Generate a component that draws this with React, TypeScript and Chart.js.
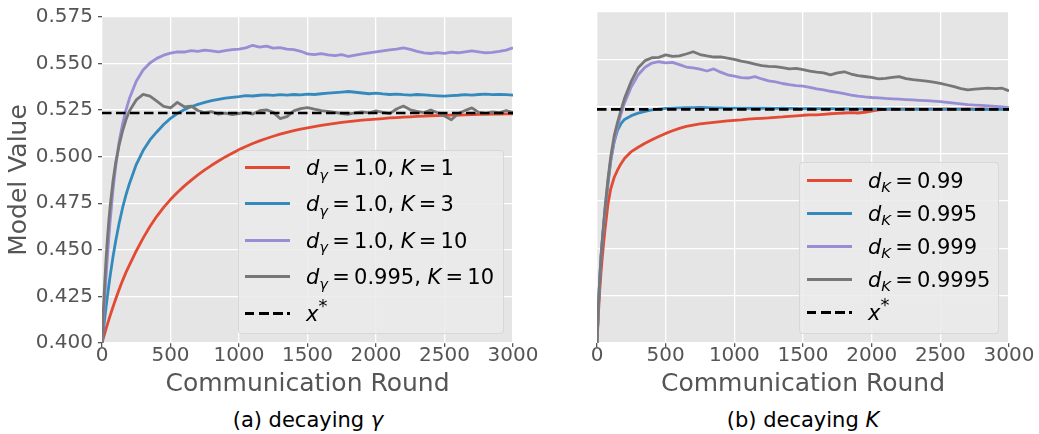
import React, { useEffect, useRef } from 'react';
import { Chart, registerables } from 'chart.js';

Chart.register(...registerables);

// Communication rounds at which values are read
const ROUNDS = [
  0, 10, 20, 30, 40, 50, 60, 80, 100, 125, 150, 175,
  200, 250, 300, 350, 400, 450, 500, 550, 600, 650, 700, 750, 800, 850, 900, 950, 1000,
  1050, 1100, 1150, 1200, 1250, 1300, 1350, 1400, 1450, 1500, 1550, 1600, 1650, 1700, 1750, 1800, 1850, 1900, 1950, 2000,
  2050, 2100, 2150, 2200, 2250, 2300, 2350, 2400, 2450, 2500, 2550, 2600, 2650, 2700, 2750, 2800, 2850, 2900, 2950, 3000,
];

// (a) decaying gamma
const LEFT_G10_K1 = [
  0.4, 0.4026, 0.4052, 0.4077, 0.4101, 0.4125, 0.4148, 0.4193, 0.4236, 0.4287, 0.4335, 0.4379,
  0.4418, 0.4494, 0.4563, 0.4625, 0.468, 0.4728, 0.477, 0.4808, 0.4842, 0.4873, 0.4902, 0.4929, 0.4954, 0.4977, 0.4999, 0.5019, 0.5038,
  0.5055, 0.5071, 0.5085, 0.5098, 0.511, 0.5121, 0.5131, 0.514, 0.5148, 0.5155, 0.5162, 0.5168, 0.5174, 0.5179, 0.5184, 0.5188, 0.5192, 0.5196, 0.5199, 0.5202,
  0.5205, 0.5208, 0.521, 0.5212, 0.5214, 0.5216, 0.5218, 0.522, 0.5221, 0.5222, 0.5223, 0.5224, 0.5225, 0.5226, 0.5227, 0.5228, 0.5229, 0.5229, 0.523, 0.523,
];
const LEFT_G10_K3 = [
  0.4, 0.4068, 0.4133, 0.4195, 0.4254, 0.431, 0.4363, 0.4461, 0.4548, 0.4643, 0.4725, 0.4795,
  0.4855, 0.4958, 0.5033, 0.509, 0.5133, 0.5173, 0.5206, 0.5232, 0.5252, 0.5268, 0.5281, 0.5292, 0.5301, 0.5308, 0.5314, 0.5319, 0.5323,
  0.5328, 0.5326, 0.533, 0.5332, 0.5329, 0.5333, 0.5331, 0.5334, 0.5332, 0.5336, 0.5334, 0.5338, 0.5341, 0.5344, 0.5347, 0.535, 0.5346, 0.5342, 0.5338, 0.5341,
  0.5337, 0.5334, 0.5336, 0.5333, 0.5331, 0.5334, 0.5332, 0.5329, 0.5327, 0.5325, 0.5328, 0.533, 0.5333, 0.5331, 0.5334, 0.5336, 0.5333, 0.5335, 0.5333, 0.5331,
];
const LEFT_G10_K10 = [
  0.4, 0.412, 0.424, 0.436, 0.447, 0.457, 0.466, 0.482, 0.495, 0.508, 0.5175, 0.525,
  0.5312, 0.5405, 0.5465, 0.5503, 0.5528, 0.5545, 0.5556, 0.5563, 0.5562, 0.557, 0.5566, 0.5572, 0.5568, 0.5563, 0.557, 0.5575, 0.5578,
  0.5584, 0.5598, 0.5588, 0.5594, 0.5583, 0.5586, 0.5578, 0.5575, 0.5566, 0.5552, 0.5548, 0.5553, 0.5547, 0.5543, 0.5548, 0.5538, 0.5545, 0.5552, 0.5558, 0.5563,
  0.5568, 0.5573, 0.5577, 0.5584, 0.5576, 0.5566, 0.5558, 0.5554, 0.5559, 0.5555, 0.5561, 0.5558, 0.5563, 0.5568, 0.5563, 0.5558, 0.556, 0.5565, 0.5572, 0.5585,
];
const LEFT_G995_K10 = [
  0.4, 0.4175, 0.4325, 0.4455, 0.4565, 0.4658, 0.4738, 0.4868, 0.4968, 0.5062, 0.5138, 0.5198,
  0.5245, 0.5305, 0.5335, 0.5325, 0.5298, 0.527, 0.5262, 0.5292, 0.5268, 0.5272, 0.5248, 0.5236, 0.5242, 0.5228, 0.5234, 0.5226, 0.5232,
  0.5238, 0.5229, 0.5247, 0.5252, 0.5238, 0.5205, 0.5215, 0.5246, 0.5258, 0.5264, 0.5255, 0.5247, 0.5243, 0.5238, 0.5232, 0.5228, 0.5236, 0.5241, 0.5235, 0.5246,
  0.5238, 0.5231, 0.5256, 0.5272, 0.5252, 0.5244, 0.5237, 0.5251, 0.5236, 0.5218, 0.5198, 0.5232, 0.5248, 0.5262, 0.5238, 0.5232, 0.5241, 0.5236, 0.5248, 0.5238,
];

// (b) decaying K
const RIGHT_K99 = [
  0.4, 0.415, 0.428, 0.438, 0.4465, 0.454, 0.461, 0.4735, 0.4815, 0.4875, 0.4915, 0.4948,
  0.4975, 0.5012, 0.5035, 0.5056, 0.5075, 0.5092, 0.5108, 0.5122, 0.5135, 0.5145, 0.5152, 0.5158, 0.5162, 0.5166, 0.517, 0.5174, 0.5177,
  0.518, 0.5184, 0.5186, 0.5188, 0.519, 0.5193, 0.5195, 0.5198, 0.5201, 0.5204, 0.5206, 0.5206, 0.5209, 0.5212, 0.5214, 0.5216, 0.5218, 0.5216, 0.522, 0.5226,
  0.5232, 0.5235, 0.5236, 0.5236, 0.5237, 0.5236, 0.5237, 0.5237, 0.5236, 0.5237, 0.5238, 0.5237, 0.5237, 0.5238, 0.5237, 0.5238, 0.5237, 0.5238, 0.5238, 0.5237,
];
const RIGHT_K995 = [
  0.4, 0.419, 0.434, 0.446, 0.455, 0.463, 0.471, 0.484, 0.4965, 0.5065, 0.5125, 0.516,
  0.5182, 0.5202, 0.5215, 0.5225, 0.5232, 0.5237, 0.524, 0.5242, 0.5243, 0.5244, 0.5244, 0.5245, 0.5244, 0.5243, 0.5243, 0.5242, 0.5242,
  0.5242, 0.5241, 0.5242, 0.5241, 0.5241, 0.524, 0.5241, 0.524, 0.524, 0.5239, 0.524, 0.5239, 0.5239, 0.5239, 0.5238, 0.5239, 0.5238, 0.5238, 0.5238, 0.5238,
  0.5238, 0.5237, 0.5238, 0.5237, 0.5237, 0.5237, 0.5237, 0.5236, 0.5237, 0.5236, 0.5236, 0.5236, 0.5236, 0.5236, 0.5235, 0.5236, 0.5235, 0.5235, 0.5235, 0.5235,
];
const RIGHT_K999 = [
  0.4, 0.419, 0.434, 0.446, 0.4555, 0.4635, 0.4715, 0.4855, 0.4965, 0.5065, 0.5145, 0.5212,
  0.5268, 0.5355, 0.5418, 0.5458, 0.548, 0.5487, 0.5481, 0.5484, 0.5472, 0.5459, 0.5454, 0.5448, 0.5438, 0.5449, 0.5432, 0.5418, 0.5411,
  0.5403, 0.5401, 0.5408, 0.5396, 0.5386, 0.538, 0.5372, 0.5366, 0.5361, 0.5358, 0.5352, 0.5344, 0.5338, 0.5331, 0.5325, 0.5318, 0.5311, 0.5305, 0.5301, 0.5298,
  0.5296, 0.5293, 0.5291, 0.5289, 0.5287, 0.5285, 0.5283, 0.5281, 0.5279, 0.5276, 0.5272, 0.5268, 0.5264, 0.526, 0.5258, 0.5256, 0.5254, 0.5251, 0.5248, 0.5244,
];
const RIGHT_K9995 = [
  0.4, 0.419, 0.434, 0.4465, 0.456, 0.4645, 0.4725, 0.4868, 0.4985, 0.5095, 0.5168, 0.5232,
  0.5292, 0.5385, 0.5455, 0.5493, 0.5508, 0.551, 0.5523, 0.5515, 0.5518, 0.5528, 0.554, 0.5525, 0.5518, 0.5512, 0.5513, 0.5506, 0.55,
  0.549, 0.5484, 0.5474, 0.5466, 0.5463, 0.5461, 0.5456, 0.5449, 0.5452, 0.5445, 0.5437, 0.5432, 0.5428, 0.5418, 0.5428, 0.5434, 0.5422, 0.5414, 0.5409, 0.5404,
  0.5396, 0.5399, 0.5404, 0.5408, 0.5398, 0.5393, 0.5389, 0.5385, 0.5379, 0.5373, 0.5364, 0.5355, 0.5345, 0.5338, 0.5342, 0.5345, 0.5347, 0.5345, 0.5347, 0.5333,
];

const X_STAR = 0.5235;
const X_TICKS = [0, 500, 1000, 1500, 2000, 2500, 3000];
const Y_TICKS = [0.4, 0.425, 0.45, 0.475, 0.5, 0.525, 0.55, 0.575];

const D_GAMMA = ['1.0', '1.0', '1.0', '0.995'];
const K_VALUES = ['1', '3', '10', '10'];
const D_K = ['0.99', '0.995', '0.999', '0.9995'];

const COLORS = ['#E24A33', '#348ABD', '#988ED5', '#777777'];
const FONT = "'DejaVu Sans', 'Liberation Sans', sans-serif";

const bgPlugin = {
  id: 'ggplotBg',
  beforeDraw(chart: any) {
    const { ctx, chartArea: a } = chart;
    ctx.save();
    ctx.fillStyle = '#E5E5E5';
    ctx.fillRect(a.left, a.top, a.right - a.left, a.bottom - a.top);
    ctx.restore();
  },
};

function buildChart(canvas: HTMLCanvasElement, series: number[][], showY: boolean, yWidth: number, rightPad: number) {
  const datasets: any[] = series.map((vals, i) => ({
    data: vals.map((v, j) => ({ x: ROUNDS[j], y: v })),
    borderColor: COLORS[i],
    borderWidth: 2.8,
    pointRadius: 0,
    tension: 0,
    order: 4 - i,
  }));
  datasets.push({
    data: [
      { x: X_TICKS[0], y: X_STAR },
      { x: X_TICKS[X_TICKS.length - 1], y: X_STAR },
    ],
    borderColor: '#000000',
    borderWidth: 2.6,
    borderDash: [9.5, 4.5],
    pointRadius: 0,
    order: 0,
  });
  return new Chart(canvas, {
    type: 'line',
    data: { datasets },
    plugins: [bgPlugin],
    options: {
      animation: false,
      responsive: false,
      devicePixelRatio: 1,
      layout: { autoPadding: false, padding: { left: 0, top: 12, right: rightPad, bottom: 0 } },
      plugins: { legend: { display: false }, tooltip: { enabled: false } },
      elements: { line: { borderJoinStyle: 'round' } },
      scales: {
        x: {
          type: 'linear',
          min: 0,
          max: 3000,
          afterBuildTicks: (s: any) => { s.ticks = X_TICKS.map((v) => ({ value: v })); },
          afterFit: (s: any) => { s.height = 57; },
          border: { display: false },
          grid: { color: '#FFFFFF', lineWidth: 1.3, tickColor: '#555555', tickLength: 4, drawTicks: true },
          ticks: {
            color: '#555555',
            font: { family: FONT, size: 20 },
            padding: -3,
            maxRotation: 0,
            autoSkip: false,
            callback: (v: any) => String(v),
          },
          title: {
            display: true,
            text: 'Communication Round',
            color: '#555555',
            font: { family: FONT, size: 25 },
            padding: { top: 0, bottom: 1 },
          },
        },
        y: {
          type: 'linear',
          min: 0.4,
          max: 0.575,
          afterBuildTicks: (s: any) => { s.ticks = Y_TICKS.map((v) => ({ value: v })); },
          afterFit: (s: any) => { s.width = yWidth; },
          border: { display: false },
          grid: { color: '#FFFFFF', lineWidth: 1.3, tickColor: '#555555', tickLength: 4, drawTicks: showY },
          ticks: {
            display: showY,
            color: '#555555',
            font: { family: FONT, size: 20 },
            padding: 5,
            callback: (v: any) => Number(v).toFixed(3),
          },
          title: {
            display: showY,
            text: 'Model Value',
            color: '#555555',
            font: { family: FONT, size: 25 },
            padding: { top: 4, bottom: 0 },
          },
        },
      },
    } as any,
  });
}

const legendBox: React.CSSProperties = {
  position: 'absolute',
  background: 'rgba(234,234,234,0.82)',
  border: '1px solid rgba(214,214,214,0.9)',
  borderRadius: 4,
  boxSizing: 'border-box',
};

function Sample({ color, dashed }: { color: string; dashed?: boolean }) {
  return (
    <div
      style={{
        width: 45,
        height: 3,
        background: dashed
          ? 'repeating-linear-gradient(to right, #000 0px, #000 9.5px, transparent 9.5px, transparent 14px)'
          : color,
        flex: 'none',
      }}
    />
  );
}

const sub: React.CSSProperties = { fontSize: '0.7em', position: 'relative', top: '0.32em', fontStyle: 'italic', lineHeight: 0 };
const sup: React.CSSProperties = { fontSize: '0.85em', position: 'relative', top: '-0.5em', lineHeight: 0 };
const eq: React.CSSProperties = { margin: '0 0.2em' };

function Row({ top, left, textLeft, color, dashed, children }: any) {
  return (
    <div
      style={{
        position: 'absolute',
        top: top - 15,
        left,
        height: 30,
        display: 'flex',
        alignItems: 'center',
        whiteSpace: 'nowrap',
      }}
    >
      <Sample color={color} dashed={dashed} />
      <div style={{ marginLeft: textLeft - left - 45, fontSize: 21, lineHeight: 1, color: '#000', position: 'relative', top: 1 }}>
        {children}
      </div>
    </div>
  );
}

export default function App() {
  const leftRef = useRef<HTMLCanvasElement>(null);
  const rightRef = useRef<HTMLCanvasElement>(null);

  useEffect(() => {
    const a = buildChart(leftRef.current!, [LEFT_G10_K1, LEFT_G10_K3, LEFT_G10_K10, LEFT_G995_K10], true, 102, 47);
    const b = buildChart(rightRef.current!, [RIGHT_K99, RIGHT_K995, RIGHT_K999, RIGHT_K9995], false, 37, 30);
    return () => {
      a.destroy();
      b.destroy();
    };
  }, []);

  const leftRows = [167.3, 203.6, 240, 276.6, 313];
  const rightRows = [180, 213, 246, 279, 312];

  return (
    <div
      style={{
        position: 'absolute',
        left: 0,
        top: 0,
        width: 1039,
        height: 434,
        background: '#ffffff',
        fontFamily: FONT,
        overflow: 'hidden',
      }}
    >
      <canvas ref={leftRef} width={560} height={400} style={{ position: 'absolute', left: 0, top: 0 }} />
      <canvas ref={rightRef} width={479} height={400} style={{ position: 'absolute', left: 560, top: 0 }} />

      <div style={{ ...legendBox, left: 238, top: 150, width: 266, height: 184 }} />
      {D_GAMMA.map((d, i) => (
        <Row key={i} top={leftRows[i]} left={245} textLeft={306} color={COLORS[i]}>
          <i>d</i>
          <span style={sub}>γ</span>
          <span style={eq}>=</span>
          {d}, <i>K</i>
          <span style={eq}>=</span>
          {K_VALUES[i]}
        </Row>
      ))}
      <Row top={leftRows[4]} left={245} textLeft={306} dashed>
        <i>x</i>
        <span style={sup}>*</span>
      </Row>

      <div style={{ ...legendBox, left: 799, top: 162, width: 200, height: 172 }} />
      {D_K.map((d, i) => (
        <Row key={i} top={rightRows[i]} left={807} textLeft={868} color={COLORS[i]}>
          <i>d</i>
          <span style={sub}>K</span>
          <span style={eq}>=</span>
          {d}
        </Row>
      ))}
      <Row top={rightRows[4]} left={807} textLeft={868} dashed>
        <i>x</i>
        <span style={sup}>*</span>
      </Row>

      <div style={{ position: 'absolute', left: 0, width: 616, top: 408, textAlign: 'center', fontSize: 21, lineHeight: 1.2, color: '#000' }}>
        (a) decaying <i>γ</i>
      </div>
      <div style={{ position: 'absolute', left: 603, width: 400, top: 408, textAlign: 'center', fontSize: 21, lineHeight: 1.2, color: '#000' }}>
        (b) decaying <i>K</i>
      </div>
    </div>
  );
}
